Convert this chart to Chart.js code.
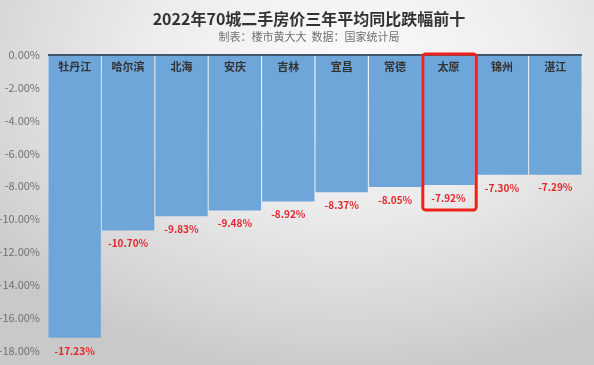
<!DOCTYPE html>
<html>
<head>
<meta charset="utf-8">
<script src="https://cdn.jsdelivr.net/npm/chart.js@4/dist/chart.umd.min.js"></script>
<style>
    html, body { margin: 0; padding: 0; }
    body {
        width: 594px; height: 365px; overflow: hidden;
        background: radial-gradient(ellipse 75% 85% at 58% 18%, #fbfbfb 0%, #ececec 45%, #d4d4d4 85%, #c9c9c9 100%);
    }
</style>
</head>
<body>
<canvas id="chart" width="594" height="365"></canvas>
<script>
const cities = ['牡丹江', '哈尔滨', '北海', '安庆', '吉林', '宜昌', '常德', '太原', '锦州', '湛江'];
const drops = [-17.23, -10.70, -9.83, -9.48, -8.92, -8.37, -8.05, -7.92, -7.30, -7.29];
const yTicks = [0, -2, -4, -6, -8, -10, -12, -14, -16, -18];
const titleText = '2022年70城二手房价三年平均同比跌幅前十';
const subtitleText = '制表：楼市黄大大  数据：国家统计局';
const highlight = '太原';

const FONT = '"Noto Sans CJK SC", "Noto Sans", sans-serif';

// title, labels inside bars, values under bars, red box
const decorPlugin = {
    id: 'decor',
    afterDatasetsDraw(chart) {
        const ctx = chart.ctx;
        const x = chart.scales.x;
        const y = chart.scales.y;
        const meta = chart.getDatasetMeta(0);
        ctx.save();
        ctx.textAlign = 'center';
        ctx.textBaseline = 'middle';
        // titles
        ctx.fillStyle = '#333';
        ctx.font = 'bold 16px ' + FONT;
        ctx.fillText(titleText, 309, 19);
        ctx.fillStyle = '#707070';
        ctx.font = '11px ' + FONT;
        ctx.fillText(subtitleText, 309, 37);
        // bar labels
        meta.data.forEach((bar, i) => {
            ctx.fillStyle = '#333';
            ctx.font = 'bold 11px ' + FONT;
            ctx.fillText(cities[i], bar.x, y.top + 12);
            ctx.fillStyle = '#e3262b';
            ctx.font = 'bold 10px ' + FONT;
            ctx.fillText(drops[i].toFixed(2) + '%', bar.x, bar.y + 13);
        });
        // highlight box
        const idx = cities.indexOf(highlight);
        const b = meta.data[idx];
        const half = (x.getPixelForValue(1) - x.getPixelForValue(0)) / 2;
        ctx.strokeStyle = '#f0201a';
        ctx.lineWidth = 3;
        ctx.beginPath();
        ctx.roundRect(b.x - half + 1, y.getPixelForValue(0) - 1, half * 2, b.y + 26 - y.getPixelForValue(0), 3);
        ctx.stroke();
        ctx.restore();
    }
};

new Chart(document.getElementById('chart'), {
    type: 'bar',
    data: {
        labels: cities,
        datasets: [{
            data: drops,
            backgroundColor: '#6fa6da',
            barPercentage: 0.98,
            categoryPercentage: 1
        }]
    },
    options: {
        responsive: false,
        animation: false,
        layout: { padding: { top: 55, bottom: 8, right: 12, left: 0 } },
        plugins: {
            legend: { display: false },
            tooltip: { enabled: false }
        },
        scales: {
            x: { display: false },
            y: {
                min: -18, max: 0,
                afterFit(scale) { scale.width = 48; },
                afterBuildTicks(scale) { scale.ticks = yTicks.map(v => ({ value: v })); },
                border: { display: false },
                grid: {
                    drawTicks: false,
                    lineWidth: 2,
                    color: c => c.tick && c.tick.value === 0 ? '#44546a' : 'transparent'
                },
                ticks: {
                    padding: 8,
                    color: '#707070',
                    font: { size: 11, family: FONT },
                    callback: v => v.toFixed(2) + '%'
                }
            }
        }
    },
    plugins: [decorPlugin]
});
</script>
</body>
</html>
